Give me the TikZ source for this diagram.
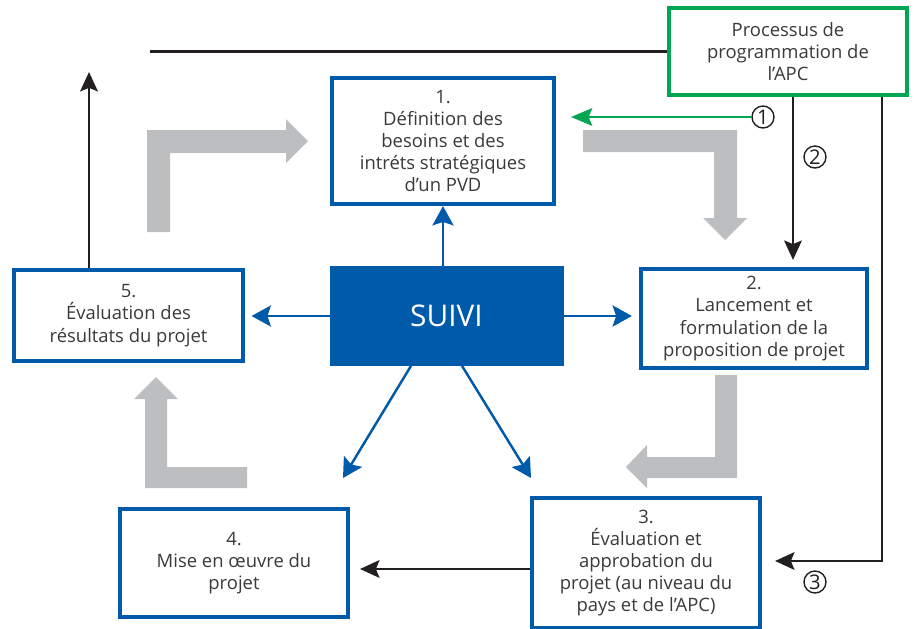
\documentclass[tikz,border=0pt]{standalone}
\usepackage{fontspec}
\setmainfont{Open Sans}
\usetikzlibrary{arrows.meta}
\definecolor{boxblue}{HTML}{005AAA}
\definecolor{apcgreen}{HTML}{00A651}
\definecolor{flowgray}{HTML}{BCBEC0}
\definecolor{txtgray}{HTML}{3A3A3A}
\definecolor{linegray}{HTML}{231F20}

\begin{document}
\begin{tikzpicture}[
          x=0.02cm, y=-0.02cm,
          every node/.style={text=txtgray, font=\fontsize{10.5}{12.6}\selectfont},
          stage/.style={
            draw=boxblue,
            line width=2.1pt,
            fill=white,
            align=center,
            inner sep=2pt},
          suivibox/.style={
            fill=boxblue,
            draw=boxblue,
            text=white,
            font=\fontsize{17}{20}\selectfont,
            minimum width=4.66cm,
            minimum height=1.98cm},
          apcbox/.style={
            stage,
            draw=apcgreen},
          circnum/.style={
            circle,
            draw=linegray,
            line width=0.8pt,
            inner sep=0pt,
            minimum size=0.44cm,
            text=linegray,
            font=\fontsize{11.5}{11.5}\selectfont},
          blackline/.style={line width=1.5pt, linegray},
          blackarrow/.style={blackline, -{Stealth[length=11pt, width=10pt, inset=2pt]}},
          bluearrow/.style={line width=1.4pt, boxblue, -{Stealth[length=11pt, width=12pt, inset=2pt]}},
          greenarrow/.style={line width=1.4pt, apcgreen, -{Stealth[length=12pt, width=10pt, inset=2pt]}},
          flowarrow/.style={fill=flowgray, draw=none},
        ]
          \useasboundingbox (0,0) rectangle (914,629);

          \fill[flowarrow] (147,232) -- (147,130) -- (286,130) -- (286,119) -- (308,141)
            -- (286,163) -- (286,153) -- (170,153) -- (170,232) -- cycle;
          \fill[flowarrow] (583,130) -- (737,130) -- (737,218) -- (747,218) -- (725,240)
            -- (703,218) -- (714,218) -- (714,152) -- (583,152) -- cycle;
          \fill[flowarrow] (737,375) -- (737,478) -- (647,478) -- (647,488) -- (626,467)
            -- (647,445) -- (647,457) -- (715,457) -- (715,375) -- cycle;
          \fill[flowarrow] (247,467) -- (247,488) -- (145,488) -- (145,399) -- (134,399)
            -- (156,377) -- (178,399) -- (167,399) -- (167,467) -- cycle;

          \node[stage, minimum width=4.45cm, minimum height=2.53cm] (def1) at (443,141)
            {1.\\Définition des\\besoins et des\\intréts stratégiques\\d’un PVD};
          \node[stage, minimum width=4.53cm, minimum height=1.99cm] (lanc2) at (754,318.5)
            {2.\\Lancement et\\formulation de la\\proposition de projet};
          \node[stage, minimum width=4.57cm, minimum height=2.61cm] (eval3) at (646,563)
            {3.\\Évaluation et\\approbation du\\projet (au niveau du\\pays et de l’APC)};
          \node[stage, minimum width=4.57cm, minimum height=2.17cm] (mise4) at (234,563)
            {4.\\Mise en œuvre du\\projet};
          \node[stage, minimum width=4.57cm, minimum height=1.83cm] (eval5) at (128.5,315.5)
            {5.\\Évaluation des\\résultats du projet};
          \node[suivibox] (suivi) at (446.5,316) {SUIVI};
          \node[apcbox, minimum width=4.77cm, minimum height=1.73cm] (apc) at (788,51.5)
            {Processus de\\programmation de\\l’APC};

          \node[circnum] (c1) at (763,117) {1};
          \node[circnum] (c2) at (815,157) {2};
          \node[circnum] (c3) at (815,582) {3};

          \coordinate (topend) at (150,53);
          \coordinate (upend) at (89,72);
          \coordinate (downleft) at (343,478);
          \coordinate (downright) at (531,478);
          \coordinate (corner3) at (882,561);

          \draw[blackline] (apc.west) -- (topend |- apc.west);
          \draw[blackarrow] (upend |- eval5.north) -- (upend);
          \draw[greenarrow, shorten >=0.3cm] (c1.west) -- (def1.east |- c1.west);
          \draw[blackarrow, shorten >=0.14cm] (apc.south -| 793,0) -- (lanc2.north -| 793,0);
          \draw[blackarrow, shorten >=0.26cm] (apc.south -| corner3) -- (corner3) -- (eval3.east |- corner3);
          \draw[blackarrow, shorten >=0.2cm] ([yshift=-0.12cm]eval3.west) -- ([yshift=-0.12cm]mise4.east);

          \draw[bluearrow] (suivi.north -| def1.south) -- (def1.south);
          \draw[bluearrow, shorten >=0.14cm] (suivi.west) -- (eval5.east |- suivi.west);
          \draw[bluearrow, shorten >=0.14cm] (suivi.east) -- (lanc2.west |- suivi.east);
          \draw[bluearrow] ([xshift=-0.71cm]suivi.south) -- (downleft);
          \draw[bluearrow] ([xshift=0.31cm]suivi.south) -- (downright);
        \end{tikzpicture}
\end{document}
